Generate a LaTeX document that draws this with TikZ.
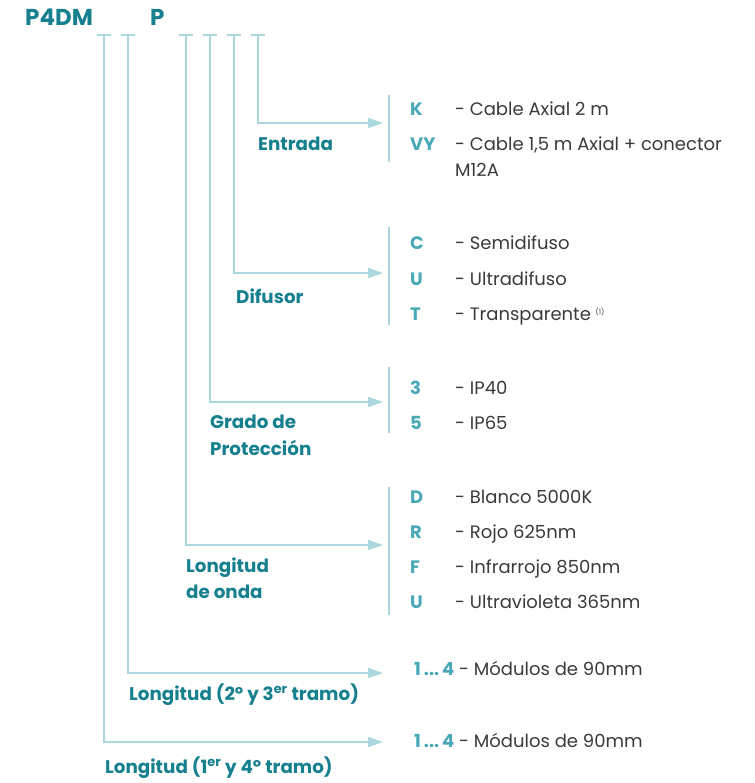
\documentclass[tikz,border=0pt]{standalone}
\usepackage{fontspec}
\setmainfont{Poppins}
\usetikzlibrary{arrows.meta}
\definecolor{lbl}{HTML}{16808F}
\definecolor{code}{HTML}{4BA9B7}
\definecolor{wire}{HTML}{ABD7DE}
\definecolor{txt}{HTML}{3A3A3A}
\tikzset{
  wire/.style={draw=wire, line width=1.4pt},
  arr/.style={wire, -{Triangle[length=15pt,width=10pt]}},
  lab/.style={anchor=base west, inner sep=0pt, text=lbl, font=\fontsize{18.3}{22}\selectfont\bfseries},
  codet/.style={anchor=base west, inner sep=0pt, text=code, font=\fontsize{18}{22}\selectfont\bfseries},
  desc/.style={anchor=base west, inner sep=0pt, text=txt, font=\fontsize{18}{22}\selectfont},
  head/.style={anchor=base west, inner sep=0pt, text=lbl, font=\fontsize{23}{28}\selectfont\bfseries},
}
\begin{document}
\begin{tikzpicture}[x=1pt,y=-1pt]
\useasboundingbox (0,0) rectangle (754,783);
% header
\node[head] (p4dm) at (25,26) {P4DM};
\node[head] (pp) at (150,26) {P};
% tick coordinates
\foreach \n/\x in {a/104,b/128,c/186,d/210,e/234,f/258}{
  \coordinate (t\n) at (\x,35);
  \draw[wire] (\x-7,35) -- (\x+7,35);
}
% arrow tips
\coordinate (hf) at (383,123);
\coordinate (he) at (383,273);
\coordinate (hd) at (383,402);
\coordinate (hc) at (383,545);
\coordinate (hb) at (383,673);
\coordinate (ha) at (383,742);
\foreach \n in {a,b,c,d,e,f}{
  \draw[arr] (t\n) |- (h\n);
}
% bars
\coordinate (b1t) at (389,95);  \coordinate (b1b) at (389,162);
\coordinate (b2t) at (389,227); \coordinate (b2b) at (389,325);
\coordinate (b3t) at (389,367); \coordinate (b3b) at (389,433);
\coordinate (b4t) at (389,487); \coordinate (b4b) at (389,615);
\draw[wire] (b1t) -- (b1b);
\draw[wire] (b2t) -- (b2b);
\draw[wire] (b3t) -- (b3b);
\draw[wire] (b4t) -- (b4b);
% labels
\node[lab] (entrada) at (258,151) {Entrada};
\node[lab] (difusor) at (236,303) {Difusor};
\node[lab] (grado) at (210,428) {Grado de};
\node[lab] (prot) at (210,455) {Protección};
\node[lab] (long1) at (186,572) {Longitud};
\node[lab] (long2) at (186,598) {de onda};
\node[lab] (l23) at (129,700) {Longitud (2º y 3\textsuperscript{er} tramo)};
\node[lab] (l14) at (105,773) {Longitud (1\textsuperscript{er} y 4º tramo)};
% codes
\node[codet] (k) at (410,116) {K};
\node[desc] (kd) at (455,116) {- Cable Axial 2 m};
\node[codet] (vy) at (410,151) {VY};
\node[desc] (vyd) at (455,151) {- Cable 1,5 m Axial + conector};
\node[desc] (vyd2) at (455,177) {M12A};
\node[codet] (c) at (410,250) {C};
\node[desc] (cd) at (455,250) {- Semidifuso};
\node[codet] (u) at (410,285) {U};
\node[desc] (ud) at (455,285) {- Ultradifuso};
\node[codet] (t) at (410,320) {T};
\node[desc] (td) at (455,320) {- Transparente \raisebox{6pt}{\fontsize{7}{8}\selectfont(1)}};
\node[codet] (c3) at (410,394) {3};
\node[desc] (c3d) at (455,394) {- IP40};
\node[codet] (c5) at (410,429) {5};
\node[desc] (c5d) at (455,429) {- IP65};
\node[codet] (d) at (410,503) {D};
\node[desc] (dd) at (455,503) {- Blanco 5000K};
\node[codet] (r) at (410,538) {R};
\node[desc] (rd) at (455,538) {- Rojo 625nm};
\node[codet] (f) at (410,573) {F};
\node[desc] (fd) at (455,573) {- Infrarrojo 850nm};
\node[codet] (u2) at (410,608) {U};
\node[desc] (u2d) at (455,608) {- Ultravioleta 365nm};
\node[desc] (m1) at (414,675) {\textcolor{code}{\bfseries 1\kern3pt...\kern3pt4} - Módulos de 90mm};
\node[desc] (m2) at (414,747) {\textcolor{code}{\bfseries 1\kern3pt...\kern3pt4} - Módulos de 90mm};
\end{tikzpicture}
\end{document}
